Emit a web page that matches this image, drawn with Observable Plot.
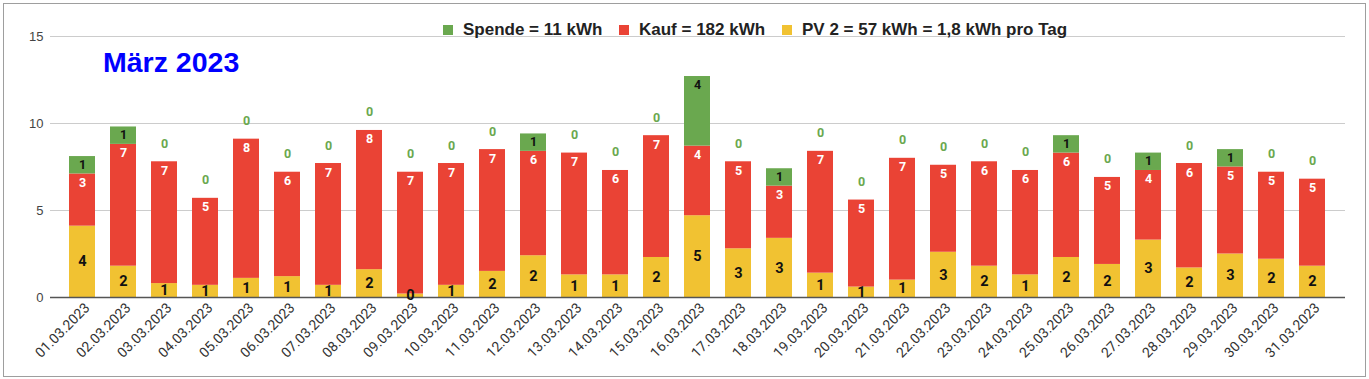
<!DOCTYPE html>
<html>
<head>
<meta charset="utf-8">
<script src="https://cdn.jsdelivr.net/npm/d3@7"></script>
<script src="https://cdn.jsdelivr.net/npm/@observablehq/plot@0.6"></script>
<style>
  html, body { margin: 0; padding: 0; background: #fff; }
  #wrap { position: relative; width: 1369px; height: 379px; overflow: hidden; font-family: "Liberation Sans", Arial, sans-serif; }
  #chart { position: absolute; left: 0; top: 0; }
  #frame { position: absolute; left: 3px; top: 3px; width: 1361px; height: 372px; border: 1px solid #9e9e9e; pointer-events: none; }
  #title { position: absolute; left: 103px; top: 48px; font-size: 28.5px; font-weight: bold; color: #0000ff; white-space: nowrap; line-height: 1; }
  .leg { position: absolute; top: 21px; display: flex; align-items: center; font-size: 17px; font-weight: bold; color: #222; white-space: nowrap; line-height: 18px; }
  .sw { width: 10px; height: 10px; margin-right: 10px; }
</style>
</head>
<body>
<div id="wrap">
  <div id="chart"></div>
  <div id="title"></div>
  <div id="legend"></div>
  <div id="frame"></div>
</div>
<script>
const dates = ["01.03.2023","02.03.2023","03.03.2023","04.03.2023","05.03.2023","06.03.2023","07.03.2023","08.03.2023","09.03.2023","10.03.2023","11.03.2023","12.03.2023","13.03.2023","14.03.2023","15.03.2023","16.03.2023","17.03.2023","18.03.2023","19.03.2023","20.03.2023","21.03.2023","22.03.2023","23.03.2023","24.03.2023","25.03.2023","26.03.2023","27.03.2023","28.03.2023","29.03.2023","30.03.2023","31.03.2023"];
const pv     = [4.1,1.8,0.8,0.7,1.1,1.2,0.7,1.6,0.2,0.7,1.5,2.4,1.3,1.3,2.3,4.7,2.8,3.4,1.4,0.6,1.0,2.6,1.8,1.3,2.3,1.9,3.3,1.7,2.5,2.2,1.8];
const kauf   = [3,7,7,5,8,6,7,8,7,7,7,6,7,6,7,4,5,3,7,5,7,5,6,6,6,5,4,6,5,5,5];
const spende = [1,1,0,0,0,0,0,0,0,0,0,1,0,0,0,4,0,1,0,0,0,0,0,0,1,0,1,0,1,0,0];
const seriesNames = ["Spende", "Kauf", "PV 2"];
const seriesColors = ["#6aa84f", "#ea4335", "#f1c232"];
const legendLabels = ["Spende = 11 kWh", "Kauf = 182 kWh", "PV 2 = 57 kWh = 1,8 kWh pro Tag"];
const yTicks = [0, 5, 10, 15];
const titleText = "März 2023";

const rows = dates.flatMap((d, i) => [
  {date: d, series: "PV 2", value: pv[i]},
  {date: d, series: "Kauf", value: kauf[i]},
  {date: d, series: "Spende", value: spende[i]}
]);
const days = dates.map((d, i) => ({date: d, pv: pv[i], kauf: kauf[i], spende: spende[i]}));

const labelFont = "Roboto, 'Liberation Sans', Arial, sans-serif";

const chart = Plot.plot({
  width: 1369,
  height: 379,
  marginLeft: 50,
  marginRight: 24,
  marginTop: 36,
  marginBottom: 82,
  style: {fontFamily: "'Liberation Sans', Arial, sans-serif", background: "transparent"},
  x: {domain: dates, padding: 0.36, label: null},
  y: {domain: [0, 15], label: null},
  color: {domain: seriesNames, range: seriesColors},
  marks: [
    Plot.ruleY(yTicks.filter(t => t > 0), {stroke: "#cccccc", strokeWidth: 1}),
    Plot.barY(rows, {x: "date", y: "value", fill: "series", order: ["PV 2", "Kauf", "Spende"]}),
    Plot.ruleY([0], {stroke: "#555", strokeWidth: 1.3}),
    Plot.axisY({ticks: yTicks, tickSize: 0, tickPadding: 7, fontSize: 13, fill: "#444", label: null}),
    Plot.axisX({tickRotate: -45, tickSize: 0, tickPadding: 8, dx: 5, fontSize: 14, fontFamily: labelFont, fill: "#333", label: null}),
    Plot.text(days, {x: "date", y: d => d.pv / 2, text: d => Math.round(d.pv), fill: "#111", fontWeight: "bold", fontSize: 14.5, fontFamily: labelFont}),
    Plot.text(days, {x: "date", y: d => d.pv + d.kauf, dy: 9, text: d => Math.round(d.kauf), fill: "#fff", fontWeight: "bold", fontSize: 12.5, fontFamily: labelFont}),
    Plot.text(days.filter(d => d.spende > 0), {x: "date", y: d => d.pv + d.kauf + d.spende, dy: 8, text: d => Math.round(d.spende), fill: "#111", fontWeight: "bold", fontSize: 12.5, fontFamily: labelFont}),
    Plot.text(days.filter(d => d.spende === 0), {x: "date", y: d => d.pv + d.kauf + d.spende, dy: -18, text: d => Math.round(d.spende), fill: "#6aa84f", fontWeight: "bold", fontSize: 12.5, fontFamily: labelFont})
  ]
});
document.getElementById("chart").appendChild(chart);
document.getElementById("title").textContent = titleText;

const legendLeft = [443, 619, 782];
const legend = document.getElementById("legend");
seriesNames.forEach((s, i) => {
  const item = document.createElement("div");
  item.className = "leg";
  item.style.left = legendLeft[i] + "px";
  const sw = document.createElement("span");
  sw.className = "sw";
  sw.style.background = seriesColors[i];
  const t = document.createElement("span");
  t.textContent = legendLabels[i];
  item.appendChild(sw);
  item.appendChild(t);
  legend.appendChild(item);
});
</script>
</body>
</html>
